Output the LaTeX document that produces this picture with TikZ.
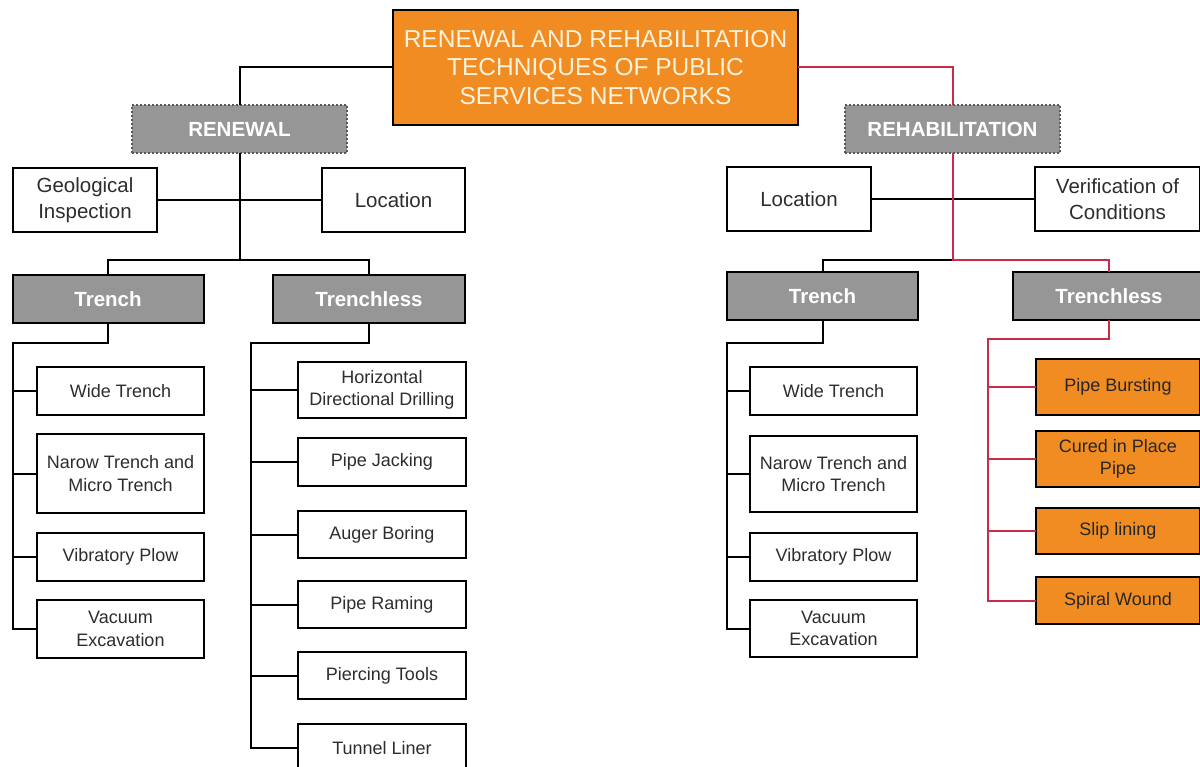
\documentclass[tikz,border=0pt]{standalone}
\usepackage{fontspec}
\setmainfont{Liberation Sans}
\usepackage{xcolor}
\usepackage{tikz}
\usetikzlibrary{shapes, positioning}

\definecolor{netorange}{RGB}{240,140,34}
\definecolor{netgray}{RGB}{150,150,150}
\definecolor{netred}{RGB}{200,45,72}
\definecolor{nettext}{RGB}{45,45,45}
\definecolor{netcream}{RGB}{253,242,220}

\tikzset{
    box/.style={draw, rectangle, line width=2pt, inner sep=2pt, outer sep=0pt, align=center},
    titlebox/.style={box, fill=netorange, text=netcream, font=\fontsize{24.5}{28.5}\selectfont},
    groupbox/.style={box, draw=black!65, dotted, line width=1.6pt, fill=netgray, text=white,
        font=\fontsize{20.5}{24}\selectfont\bfseries, minimum width=215pt, minimum height=48pt},
    infobox/.style={box, fill=white, text=nettext, font=\fontsize{20.5}{26}\selectfont, minimum height=64pt},
    catbox/.style={box, fill=netgray, text=white, font=\fontsize{20.5}{24}\selectfont\bfseries,
        minimum width=191pt, minimum height=48pt},
    itembox/.style={box, fill=white, text=nettext, font=\fontsize{18}{22.5}\selectfont},
    methodbox/.style={box, fill=netorange, text=black!85, font=\fontsize{18}{22.5}\selectfont, minimum width=164pt},
    link/.style={line width=2pt, draw=black},
    redlink/.style={line width=2pt, draw=netred}
}

\begin{document}
\begin{tikzpicture}[x=1pt, y=-1pt]
            \useasboundingbox (0,0) rectangle (1200,767);
            \clip (0,0) rectangle (1200,767);

            \node[titlebox, minimum width=405pt, minimum height=115pt] (title) at (595.5,67.5)
                {RENEWAL AND REHABILITATION\\TECHNIQUES OF PUBLIC\\SERVICES NETWORKS};

            \node[groupbox] (renewal) at (239.5,129) {RENEWAL};
            \node[groupbox] (rehab) at (952.5,129) {REHABILITATION};

            \node[infobox, minimum width=144pt] (geology) at (85,200) {Geological\\Inspection};
            \node[infobox, minimum width=143pt] (locleft) at (393.5,200) {Location};
            \node[infobox, minimum width=144pt] (locright) at (799,199) {Location};
            \node[infobox, minimum width=165pt] (verif) at (1117.5,199) {Verification of\\Conditions};

            \node[catbox] (trenchl) at (108,299) {Trench};
            \node[catbox, minimum width=192pt] (trenchlessl) at (369,299) {Trenchless};
            \node[catbox] (trenchr) at (822.5,296) {Trench};
            \node[catbox, minimum width=192pt] (trenchlessr) at (1109,296) {Trenchless};

            \node[itembox, minimum width=167pt, minimum height=48pt] (widel) at (120.5,391) {Wide Trench};
            \node[itembox, minimum width=167pt, minimum height=79pt] (narowl) at (120.5,473.5) {Narow Trench and\\Micro Trench};
            \node[itembox, minimum width=167pt, minimum height=48pt] (vibl) at (120.5,557) {Vibratory Plow};
            \node[itembox, minimum width=167pt, minimum height=58pt] (vacl) at (120.5,629) {Vacuum\\Excavation};

            \node[itembox, minimum width=168pt, minimum height=56pt] (hdd) at (382,390) {Horizontal\\Directional Drilling};
            \node[itembox, minimum width=168pt, minimum height=48pt] (jacking) at (382,462) {Pipe Jacking};
            \node[itembox, minimum width=168pt, minimum height=47pt] (auger) at (382,534.5) {Auger Boring};
            \node[itembox, minimum width=168pt, minimum height=47pt] (raming) at (382,604.5) {Pipe Raming};
            \node[itembox, minimum width=168pt, minimum height=47pt] (piercing) at (382,675.5) {Piercing Tools};
            \node[itembox, minimum width=168pt, minimum height=48pt] (tunnel) at (382,748) {Tunnel Liner};

            \node[itembox, minimum width=167pt, minimum height=48pt] (wider) at (833.5,391) {Wide Trench};
            \node[itembox, minimum width=167pt, minimum height=76pt] (narowr) at (833.5,474) {Narow Trench and\\Micro Trench};
            \node[itembox, minimum width=167pt, minimum height=48pt] (vibr) at (833.5,557) {Vibratory Plow};
            \node[itembox, minimum width=167pt, minimum height=57pt] (vacr) at (833.5,628.5) {Vacuum\\Excavation};

            \node[methodbox, minimum height=56pt] (bursting) at (1118,387) {Pipe Bursting};
            \node[methodbox, minimum height=56pt] (cipp) at (1118,459) {Cured in Place\\Pipe};
            \node[methodbox, minimum height=46pt] (slip) at (1118,531) {Slip lining};
            \node[methodbox, minimum height=47pt] (spiral) at (1118,600.5) {Spiral Wound};

            \draw[link] (title.west) -| (renewal.north);
            \draw[redlink] (title.east) -| (rehab.north);

            \coordinate (jl) at (239.5,260);
            \draw[link] (geology.east) -- (locleft.west);
            \draw[link] (renewal.south) -- (jl);
            \draw[link] (trenchl.north) |- (jl) -| (trenchlessl.north);

            \coordinate (jr) at (952.5,260);
            \draw[link] (locright.east) -- (verif.west);
            \draw[link] (jr) -| (trenchr.north);
            \draw[redlink] (rehab.south) -- (jr) -| (trenchlessr.north);

            \coordinate (spl) at (13,343);
            \draw[link] (trenchl.south) |- (spl) -- (spl |- vacl.west) -- (vacl.west);
            \foreach \n in {widel, narowl, vibl}
                \draw[link] (spl |- \n.west) -- (\n.west);

            \coordinate (spt) at (251,343);
            \draw[link] (trenchlessl.south) |- (spt) -- (spt |- tunnel.west) -- (tunnel.west);
            \foreach \n in {hdd, jacking, auger, raming, piercing}
                \draw[link] (spt |- \n.west) -- (\n.west);

            \coordinate (spr) at (727,343);
            \draw[link] (trenchr.south) |- (spr) -- (spr |- vacr.west) -- (vacr.west);
            \foreach \n in {wider, narowr, vibr}
                \draw[link] (spr |- \n.west) -- (\n.west);

            \coordinate (spo) at (988,339);
            \draw[redlink] (trenchlessr.south) |- (spo) -- (spo |- spiral.west) -- (spiral.west);
            \foreach \n in {bursting, cipp, slip}
                \draw[redlink] (spo |- \n.west) -- (\n.west);
        \end{tikzpicture}
\end{document}
